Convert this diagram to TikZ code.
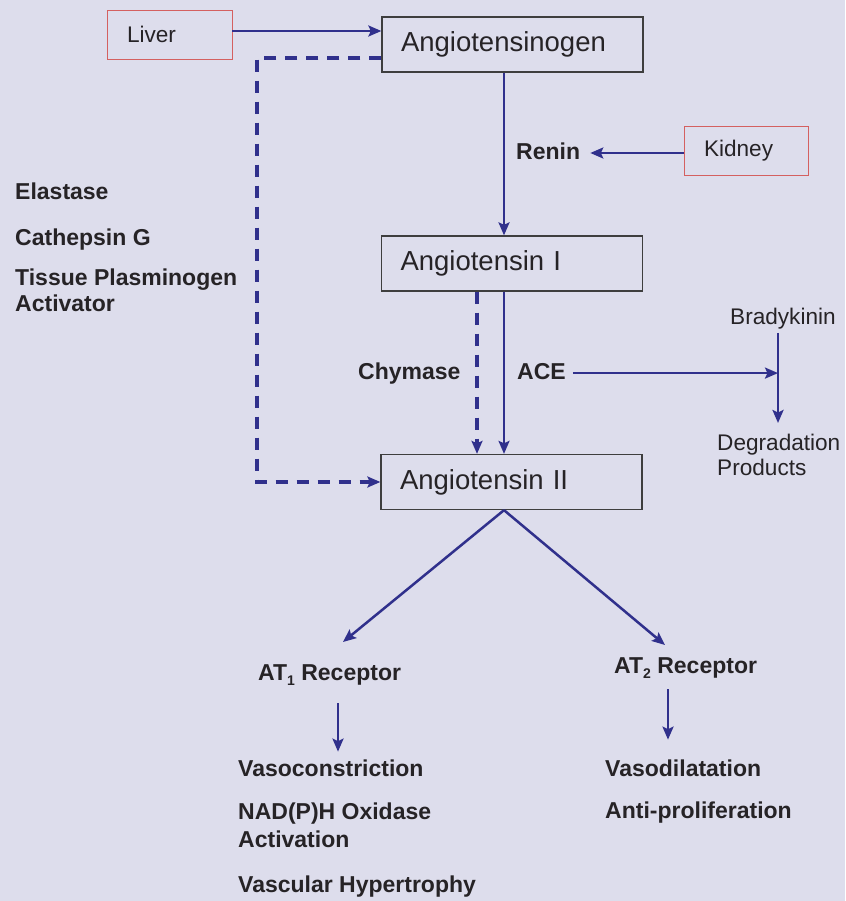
\documentclass[tikz,border=0pt]{standalone}
\usepackage{fontspec}
\setmainfont{Liberation Sans}
\usetikzlibrary{arrows.meta,calc}
\definecolor{bg}{RGB}{221,221,236}
\definecolor{arrowblue}{RGB}{48,48,140}
\definecolor{boxgray}{RGB}{62,62,62}
\definecolor{organred}{RGB}{212,96,96}
\definecolor{ink}{RGB}{38,35,38}
\begin{document}
\begin{tikzpicture}[x=1pt,y=-1pt,
  bigbox/.style={draw=boxgray,line width=1.3pt,text=ink,font=\fontsize{27.5}{33}\selectfont,inner xsep=19pt,inner ysep=0pt,text width=223pt,align=left,minimum height=55pt},
  organ/.style={draw=organred,line width=0.9pt,text=ink,font=\fontsize{22.6}{26}\selectfont,inner xsep=20pt,inner ysep=0pt,text width=85pt,align=left,minimum height=49pt},
  lbl/.style={text=ink,font=\bfseries\fontsize{23}{26}\selectfont,inner sep=0pt,anchor=base west},
  plain/.style={text=ink,font=\fontsize{22.6}{25}\selectfont,inner sep=0pt},
  arr/.style={draw=arrowblue,line width=2.5pt,-{Stealth[length=13pt,width=11pt,inset=2.5pt]}},
  dasharr/.style={arr,line width=3.2pt,dash pattern=on 12pt off 9pt}
]
\fill[bg] (0,0) rectangle (845,901);
\useasboundingbox (0,0) rectangle (845,901);

% boxes
\node[organ] (liver) at (169.5,34.5) {Liver};
\node[bigbox] (ago) at (512.5,44.5) {Angiotensinogen};
\node[organ,text width=84pt] (kidney) at (746,150.5) {Kidney};
\node[bigbox] (ang1) at (512,263.5) {Angiotensin I};
\node[bigbox] (ang2) at (511.5,482) {Angiotensin II};

% labels
\node[lbl] (renin) at (516,160) {Renin};
\node[lbl] (chym) at (358,379) {Chymase};
\node[lbl] (ace) at (517,379) {ACE};
\node[lbl] (ela) at (15,200) {Elastase};
\node[lbl] (cat) at (15,245) {Cathepsin G};
\node[lbl,anchor=north west,align=left] (tpa) at (15,268.5) {Tissue Plasminogen\\Activator};
\node[plain,anchor=base west] (brady) at (730,324) {Bradykinin};
\node[plain,anchor=north west,align=left] (degr) at (717,433.5) {Degradation\\Products};
\node[lbl] (at1) at (258,680) {AT\raisebox{-5pt}{\fontsize{14}{14}\selectfont 1} Receptor};
\node[lbl] (at2) at (614,673) {AT\raisebox{-5pt}{\fontsize{14}{14}\selectfont 2} Receptor};
\node[lbl] (vcon) at (238,776) {Vasoconstriction};
\node[lbl,anchor=north west,align=left,font=\bfseries\fontsize{23}{28}\selectfont] (nadph) at (238,802.5) {NAD(P)H Oxidase\\Activation};
\node[lbl] (vhyp) at (238,892) {Vascular Hypertrophy};
\node[lbl] (vdil) at (605,776) {Vasodilatation};
\node[lbl] (antip) at (605,818) {Anti-proliferation};

% helper coordinates
\coordinate (colA) at (504,0);
\coordinate (colC) at (477,0);
\coordinate (colD) at (257,0);
\coordinate (colB) at (778,0);
\coordinate (c1) at (338,0);
\coordinate (c2) at (668,0);
\coordinate (t1) at (343,642);
\coordinate (t2) at (665,645);

% connectors
\draw[arr] ([yshift=3.5pt]liver.east) -- ([yshift=3.5pt]liver.east -| ago.west);
\draw[dasharr] ([yshift=-13.5pt]ago.west) -| (colD |- ang2.west) -- (ang2.west);
\draw[arr] (ago.south -| colA) -- (ang1.north -| colA);
\draw[arr,shorten >=10pt] ([yshift=-2.5pt]kidney.west) -- ([yshift=-2.5pt]kidney.west -| renin.east);
\draw[dasharr] (ang1.south -| colC) -- (ang2.north -| colC);
\draw[arr] (ang1.south -| colA) -- (ang2.north -| colA);
\draw[arr,shorten <=7pt] ([yshift=-2pt]ace.east) -- ([yshift=-2pt]ace.east -| colB);
\draw[arr,shorten <=4pt,shorten >=10.5pt] (brady.south -| colB) -- (degr.north -| colB);
\draw[arr] (ang2.south -| colA) -- (t1);
\draw[arr] (ang2.south -| colA) -- (t2);
\draw[arr,shorten <=18pt,shorten >=7.5pt] (at1.south -| c1) -- (vcon.north -| c1);
\draw[arr,shorten <=11pt,shorten >=19.5pt] (at2.south -| c2) -- (vdil.north -| c2);
\end{tikzpicture}
\end{document}
